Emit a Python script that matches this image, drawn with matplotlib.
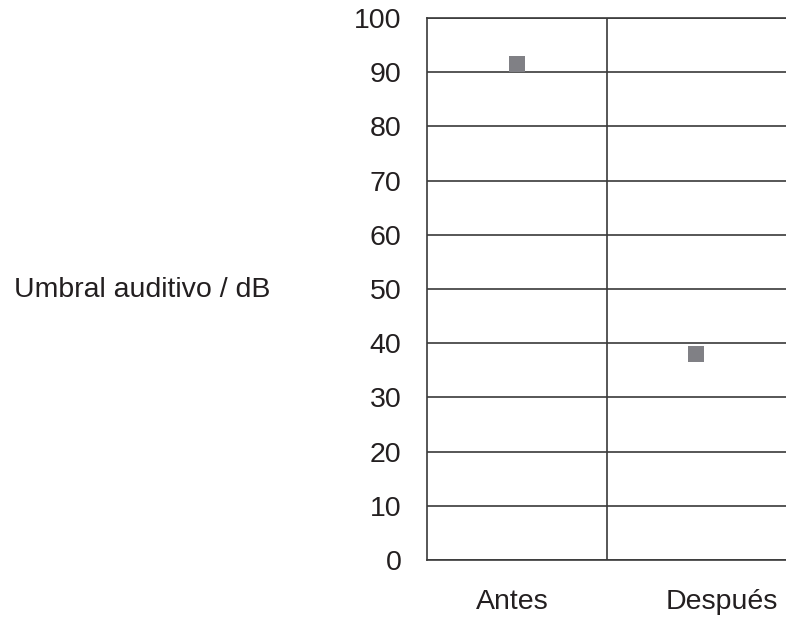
import matplotlib
matplotlib.use("Agg")
from matplotlib import pyplot as plt

plt.rcParams['font.family'] = ['Liberation Sans', 'DejaVu Sans']

# data
categories = ["Antes", "Después"]
cat_pos = [0.5, 1.5]
umbral_db = [91.5, 38]
y_ticks = [0, 10, 20, 30, 40, 50, 60, 70, 80, 90, 100]

line_col = "#3a3a3a"
text_col = "#231f20"
fs = 20.5

fig = plt.figure(figsize=(7.86, 6.18), dpi=100)
ax = fig.add_axes([427/786, 1 - 560/618, 1 - 427/786, (560 - 18)/618])

ax.plot(cat_pos, umbral_db, linestyle="none", marker="s", markersize=11.5,
        color="#808085", markeredgewidth=0, zorder=3)

ax.set_xlim(0, 2)
ax.set_ylim(0, 100)
ax.set_yticks(y_ticks)
ax.set_yticklabels([str(t) for t in y_ticks], fontsize=fs, color=text_col)
ax.tick_params(axis="y", length=0, pad=18.5)
ax.set_xticks([1])
ax.set_xticklabels([])
ax.tick_params(axis="x", length=0)
ax.grid(True, axis="both", color=line_col, linewidth=1.2)

for s in ["left", "bottom", "top"]:
    ax.spines[s].set_color(line_col)
    ax.spines[s].set_linewidth(1.2)
ax.spines["right"].set_visible(False)

# category labels under the axis
label_x = [0.478, 1.644]
for lx, c in zip(label_x, categories):
    ax.text(lx, -(602 - 560) / 542, c, transform=ax.get_xaxis_transform(),
            ha="center", va="center", fontsize=fs, color=text_col)

fig.text(142.5/786, 1 - 290/618, "Umbral auditivo / dB", ha="center", va="center",
         fontsize=fs, color=text_col)

fig.savefig("out.png", dpi=100)
